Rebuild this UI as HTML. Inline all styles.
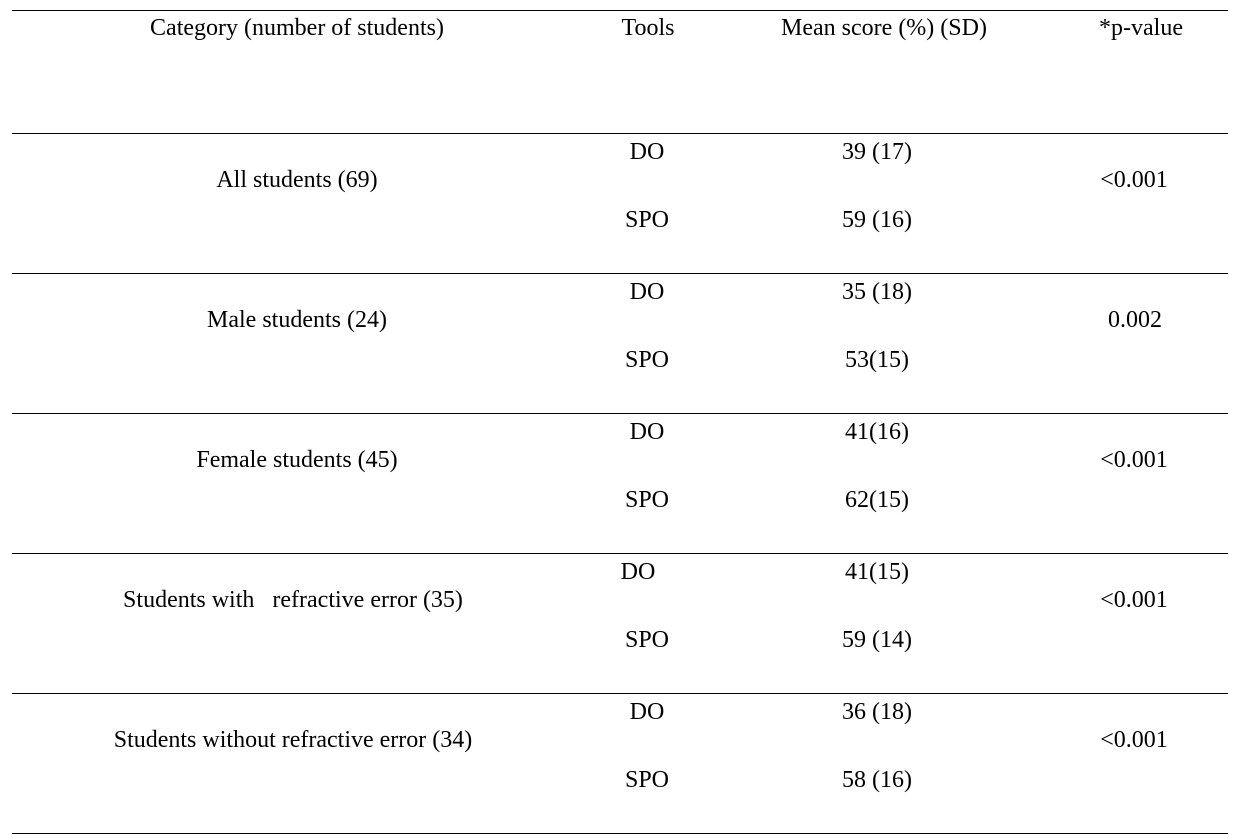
<!DOCTYPE html>
<html>
<head>
<meta charset="utf-8">
<style>
  html, body { margin:0; padding:0; background:#fff; }
  body { width:1246px; height:840px; position:relative; overflow:hidden;
         font-family:"Liberation Serif", "Times New Roman", serif; font-size:24px; color:#000; }
  .ln { position:absolute; left:12px; width:1216px; height:1px; background:#000; }
  .t { position:absolute; width:500px; text-align:center; line-height:24px; height:24px; white-space:pre; }
</style>
</head>
<body>
<div class="ln" style="top:10px"></div>
<div class="ln" style="top:133px"></div>
<div class="ln" style="top:273px"></div>
<div class="ln" style="top:413px"></div>
<div class="ln" style="top:553px"></div>
<div class="ln" style="top:693px"></div>
<div class="ln" style="top:833px"></div>

<!-- header -->
<div class="t" style="left:47px;top:16px">Category (number of students)</div>
<div class="t" style="left:398px;top:16px">Tools</div>
<div class="t" style="left:634px;top:16px">Mean score (%) (SD)</div>
<div class="t" style="left:891px;top:16px">*p-value</div>

<!-- row 1 -->
<div class="t" style="left:397px;top:140px">DO</div>
<div class="t" style="left:627px;top:140px">39 (17)</div>
<div class="t" style="left:47px;top:168px">All students (69)</div>
<div class="t" style="left:884px;top:168px">&lt;0.001</div>
<div class="t" style="left:397px;top:208px">SPO</div>
<div class="t" style="left:627px;top:208px">59 (16)</div>

<!-- row 2 -->
<div class="t" style="left:397px;top:280px">DO</div>
<div class="t" style="left:627px;top:280px">35 (18)</div>
<div class="t" style="left:47px;top:308px">Male students (24)</div>
<div class="t" style="left:885px;top:308px">0.002</div>
<div class="t" style="left:397px;top:348px">SPO</div>
<div class="t" style="left:627px;top:348px">53(15)</div>

<!-- row 3 -->
<div class="t" style="left:397px;top:420px">DO</div>
<div class="t" style="left:627px;top:420px">41(16)</div>
<div class="t" style="left:47px;top:448px">Female students (45)</div>
<div class="t" style="left:884px;top:448px">&lt;0.001</div>
<div class="t" style="left:397px;top:488px">SPO</div>
<div class="t" style="left:627px;top:488px">62(15)</div>

<!-- row 4 -->
<div class="t" style="left:388px;top:560px">DO</div>
<div class="t" style="left:627px;top:560px">41(15)</div>
<div class="t" style="left:43px;top:588px">Students with   refractive error (35)</div>
<div class="t" style="left:884px;top:588px">&lt;0.001</div>
<div class="t" style="left:397px;top:628px">SPO</div>
<div class="t" style="left:627px;top:628px">59 (14)</div>

<!-- row 5 -->
<div class="t" style="left:397px;top:700px">DO</div>
<div class="t" style="left:627px;top:700px">36 (18)</div>
<div class="t" style="left:43px;top:728px">Students without refractive error (34)</div>
<div class="t" style="left:884px;top:728px">&lt;0.001</div>
<div class="t" style="left:397px;top:768px">SPO</div>
<div class="t" style="left:627px;top:768px">58 (16)</div>
</body>
</html>
